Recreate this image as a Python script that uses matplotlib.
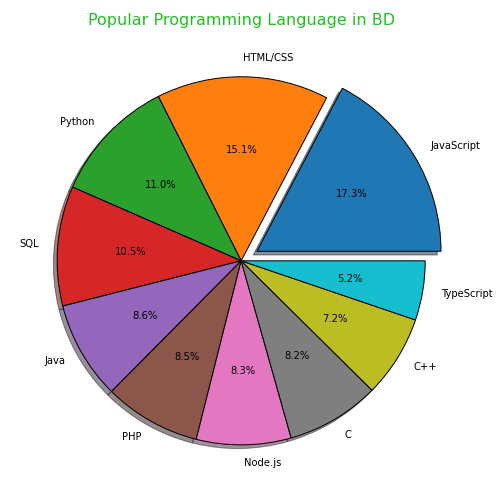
import matplotlib
matplotlib.use('Agg')
import matplotlib.pyplot as plt

# данные
languages = ['JavaScript', 'HTML/CSS', 'Python', 'SQL', 'Java', 'PHP',
             'Node.js', 'C', 'C++', 'TypeScript']
shares = [17.3, 15.1, 11.0, 10.5, 8.6, 8.5, 8.3, 8.2, 7.2, 5.2]
explode = [0.1, 0, 0, 0, 0, 0, 0, 0, 0, 0]

fig = plt.figure(figsize=(7, 7), dpi=72)
ax = fig.add_axes([0.022, 0.026, 0.913, 0.913])
ax.pie(shares, labels=languages, explode=explode, autopct='%1.1f%%',
       shadow=True, wedgeprops={'edgecolor': 'black'})
ax.set_title('Popular Programming Language in BD', color='#20c020', fontsize=16)
plt.savefig('out.png', dpi=72)
